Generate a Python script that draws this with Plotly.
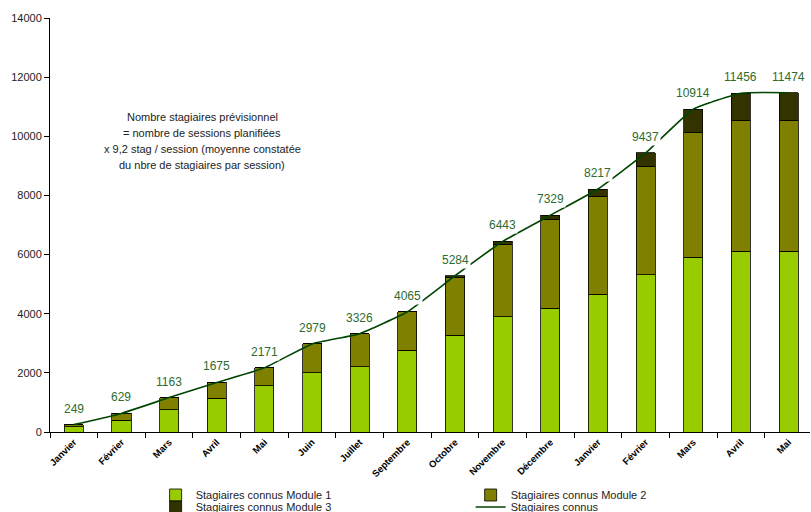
import plotly.graph_objects as go

months = ["Janvier", "Février", "Mars", "Avril", "Mai", "Juin", "Juillet", "Septembre",
          "Octobre", "Novembre", "Décembre", "Janvier", "Février", "Mars", "Avril", "Mai"]
module1 = [180, 405, 757, 1140, 1570, 2010, 2212, 2763, 3280, 3890, 4193, 4657, 5310, 5908, 6110, 6110]
module2 = [69, 224, 406, 535, 601, 969, 1114, 1302, 1950, 2457, 3000, 3313, 3675, 4214, 4431, 4431]
module3 = [0, 0, 0, 0, 0, 0, 0, 0, 54, 96, 136, 247, 452, 792, 915, 933]
connus = [249, 629, 1163, 1675, 2171, 2979, 3326, 4065, 5284, 6443, 7329, 8217, 9437, 10914, 11456, 11474]
note_lines = ["Nombre stagiaires prévisionnel", "= nombre de sessions planifiées",
              "x 9,2 stag / session (moyenne constatée", "du nbre de stagiaires par session)"]

x = list(range(len(months)))
font = "Liberation Sans, Arial, sans-serif"

fig = go.Figure()
fig.add_bar(x=x, y=module1, name="Stagiaires connus Module 1", width=0.4,
            marker=dict(color="#99CC00", line=dict(color="#000000", width=0.8)), legend="legend")
fig.add_bar(x=x, y=module2, name="Stagiaires connus Module 2", width=0.4,
            marker=dict(color="#808000", line=dict(color="#000000", width=0.8)), legend="legend")
fig.add_bar(x=x, y=module3, name="Stagiaires connus Module 3", width=0.4,
            marker=dict(color="#333300", line=dict(color="#000000", width=0.8)), legend="legend2")
fig.add_scatter(x=x, y=connus, name="Stagiaires connus", mode="lines",
                line=dict(color="#004500", width=1.6, shape="spline", smoothing=0.4), legend="legend2")

for xi, v in zip(x, connus):
    fig.add_annotation(x=xi, y=v, text=str(v), showarrow=False, yshift=16,
                       bgcolor="white", borderpad=1,
                       font=dict(family=font, size=12, color="#2e6b2e"))

for k, line in enumerate(note_lines):
    fig.add_annotation(xref="paper", yref="paper", x=0.2, xanchor="center",
                       y=(432 - 117 - 16 * k) / 414, yanchor="middle", showarrow=False,
                       text=line, font=dict(family=font, size=11, color="#222222"))

fig.update_layout(
    width=811, height=512, barmode="stack",
    margin=dict(l=50, r=1, t=18, b=80),
    plot_bgcolor="white", paper_bgcolor="white",
    font=dict(family=font, size=11, color="#222222"),
    legend=dict(orientation="h", x=0.139, xanchor="left", yref="container",
                y=(512 - 495) / 512, yanchor="middle",
                entrywidth=270, font=dict(size=11), traceorder="normal",
                bgcolor="rgba(0,0,0,0)"),
    legend2=dict(orientation="h", x=0.139, xanchor="left", yref="container",
                 y=(512 - 507) / 512, yanchor="middle",
                 entrywidth=270, font=dict(size=11), traceorder="normal",
                 bgcolor="rgba(0,0,0,0)"),
)
fig.update_xaxes(range=[-0.5, 15.45], tickvals=x, ticktext=months, tickangle=-45,
                 ticks="", showline=True, linecolor="black", linewidth=1,
                 tickfont=dict(family=font, size=9.5, color="#000000", weight="bold"),
                 minor=dict(tickvals=[i - 0.5 for i in range(len(months))],
                            ticks="outside", ticklen=5, tickcolor="black"),
                 showgrid=False, zeroline=False)
fig.update_yaxes(range=[0, 14000], dtick=2000, tickformat="d", ticks="outside", ticklen=5,
                 tickcolor="black", showline=True, linecolor="black", linewidth=1,
                 showgrid=False, zeroline=False,
                 tickfont=dict(family=font, size=11, color="#222222"))

fig.write_html("out.html", config={"displayModeBar": False},
               post_script="document.body.style.margin='0';")
